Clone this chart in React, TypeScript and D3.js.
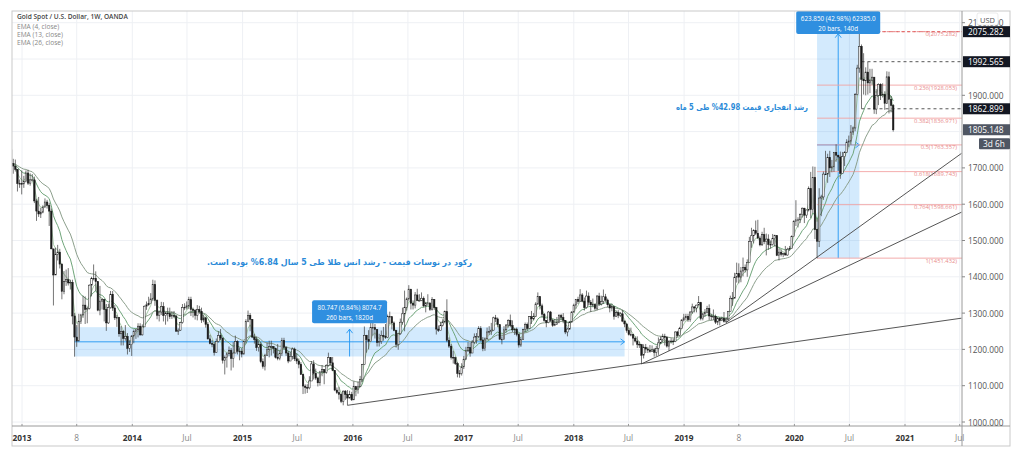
import React from 'react';
import * as d3 from 'd3';

// ---------- DATA ----------
const firstWeek = '2012-11-26';
const firstOpen = 1750;
// weekly [close, high, low]
const w2012 = [[1712,1754,1705],[1705,1725,1684],[1696,1723,1690],[1657,1697,1635],[1657,1668,1645],[1656,1693,1627]];
const w2013 = [[1662,1678,1645],[1686,1693,1660],[1658,1695,1653],[1667,1685,1651],[1667,1683,1663],[1609,1676,1603],[1581,1615,1554],[1573,1620,1565],[1578,1590,1562],[1592,1597,1575],[1606,1616,1591],[1597,1612,1588],[1581,1604,1540],[1477,1588,1476],[1405,1435,1321],[1462,1480,1405],[1468,1488,1445],[1435,1477,1423],[1360,1437,1338],[1387,1416,1352],[1392,1420,1375],[1383,1424,1376],[1385,1392,1365],[1292,1392,1269],[1234,1300,1180],[1223,1267,1207],[1277,1298,1230],[1295,1298,1270],[1322,1348,1287],[1310,1346,1270],[1313,1318,1272],[1377,1379,1310],[1396,1400,1346],[1396,1434,1390],[1387,1415,1361],[1308,1387,1305],[1333,1375,1294],[1338,1341,1310],[1310,1336,1277],[1273,1325,1251],[1315,1326,1270],[1352,1361,1312],[1314,1361,1306],[1287,1322,1281],[1288,1295,1262],[1243,1283,1235],[1250,1264,1211],[1230,1253,1211],[1236,1267,1224],[1203,1245,1186],[1213,1225,1193],[1237,1239,1182]];
const w2014 = [[1250,1255,1217],[1254,1256,1229],[1264,1272,1233],[1240,1272,1238],[1262,1269,1238],[1319,1321,1267],[1323,1332,1309],[1327,1345,1320],[1339,1355,1330],[1379,1392,1334],[1335,1390,1320],[1294,1338,1283],[1303,1305,1277],[1318,1331,1295],[1293,1330,1277],[1300,1303,1268],[1299,1315,1277],[1290,1315,1284],[1293,1305,1284],[1292,1306,1286],[1250,1294,1250],[1253,1258,1240],[1274,1276,1251],[1315,1325,1271],[1316,1327,1308],[1320,1332,1310],[1337,1345,1311],[1310,1345,1292],[1307,1315,1288],[1294,1311,1282],[1310,1322,1280],[1304,1320,1298],[1281,1315,1273],[1287,1296,1275],[1269,1290,1260],[1229,1275,1227],[1216,1240,1214],[1214,1226,1206],[1192,1221,1183],[1222,1230,1191],[1238,1250,1219],[1231,1256,1226],[1170,1233,1161],[1178,1183,1131],[1188,1192,1150],[1197,1208,1181],[1175,1204,1142],[1190,1220,1150],[1222,1238,1190],[1195,1225,1186],[1195,1205,1170],[1187,1203,1178]];
const w2015 = [[1222,1223,1187],[1277,1283,1216],[1294,1307,1275],[1283,1300,1250],[1234,1283,1231],[1227,1243,1216],[1205,1235,1196],[1213,1225,1194],[1166,1220,1162],[1153,1175,1147],[1184,1188,1142],[1199,1219,1182],[1208,1224,1178],[1208,1224,1183],[1203,1209,1189],[1178,1205,1175],[1175,1215,1170],[1189,1197,1170],[1225,1232,1182],[1205,1232,1200],[1190,1208,1182],[1168,1196,1162],[1181,1193,1170],[1201,1205,1172],[1174,1205,1168],[1168,1189,1160],[1159,1175,1148],[1131,1165,1130],[1099,1133,1077],[1095,1104,1078],[1094,1104,1080],[1113,1126,1090],[1160,1168,1115],[1134,1170,1117],[1121,1147,1116],[1108,1125,1098],[1138,1141,1100],[1145,1157,1126],[1137,1141,1104],[1156,1159,1133],[1177,1191,1153],[1163,1178,1156],[1142,1179,1140],[1088,1142,1085],[1081,1095,1077],[1076,1097,1062],[1057,1080,1052],[1085,1087,1046],[1076,1088,1061],[1066,1088,1046],[1076,1086,1065],[1061,1083,1058]];
const w2016 = [[1098,1112,1061],[1089,1097,1071],[1097,1111,1078],[1117,1127,1097],[1158,1160,1110],[1239,1263,1157],[1227,1240,1191],[1222,1253,1200],[1260,1281,1225],[1260,1283,1238],[1255,1270,1230],[1219,1254,1208],[1222,1243,1208],[1239,1252,1215],[1235,1262,1224],[1233,1270,1229],[1290,1296,1231],[1290,1304,1270],[1273,1279,1255],[1252,1277,1250],[1214,1254,1205],[1243,1245,1199],[1275,1285,1240],[1298,1315,1268],[1316,1362,1250],[1339,1343,1307],[1366,1377,1334],[1327,1356,1310],[1322,1335,1310],[1350,1358,1313],[1335,1367,1333],[1335,1352,1332],[1341,1357,1333],[1320,1346,1316],[1327,1331,1302],[1328,1352,1321],[1310,1329,1306],[1338,1344,1307],[1315,1338,1309],[1256,1317,1241],[1252,1266,1248],[1266,1276,1253],[1276,1283,1263],[1304,1307,1272],[1225,1338,1220],[1209,1233,1204],[1178,1215,1172],[1177,1196,1161],[1161,1180,1157],[1134,1165,1123],[1134,1143,1122],[1152,1162,1128]];
const w2017 = [[1173,1182,1146],[1196,1207,1172],[1205,1220,1193],[1190,1219,1180],[1220,1226,1190],[1234,1244,1215],[1236,1245,1216],[1257,1264,1231],[1226,1264,1222],[1202,1234,1195],[1229,1233,1196],[1248,1260,1229],[1249,1264,1240],[1253,1273,1240],[1287,1290,1252],[1284,1295,1275],[1268,1288,1261],[1228,1268,1227],[1228,1236,1214],[1254,1264,1228],[1267,1270,1247],[1280,1283,1260],[1266,1296,1261],[1254,1280,1248],[1256,1258,1240],[1241,1260,1236],[1212,1243,1205],[1228,1234,1207],[1255,1257,1226],[1269,1274,1247],[1258,1274,1251],[1290,1292,1257],[1284,1306,1270],[1291,1300,1280],[1325,1330,1289],[1346,1357,1323],[1320,1338,1310],[1297,1326,1288],[1280,1300,1276],[1274,1280,1261],[1303,1306,1272],[1280,1306,1276],[1266,1284,1262],[1269,1284,1264],[1275,1289,1268],[1293,1297,1272],[1288,1298,1280],[1280,1300,1272],[1248,1281,1242],[1256,1260,1236],[1275,1278,1254],[1303,1305,1276]];
const w2018 = [[1322,1326,1301],[1338,1339,1312],[1332,1345,1325],[1350,1366,1332],[1333,1355,1330],[1315,1343,1307],[1347,1362,1312],[1330,1357,1321],[1323,1336,1303],[1324,1340,1316],[1313,1327,1307],[1347,1350,1307],[1325,1356,1320],[1332,1348,1321],[1345,1365,1325],[1336,1353,1331],[1323,1340,1316],[1314,1325,1302],[1318,1326,1305],[1291,1318,1282],[1301,1307,1289],[1294,1308,1286],[1298,1303,1289],[1278,1309,1275],[1270,1280,1261],[1252,1272,1246],[1241,1260,1238],[1241,1260,1236],[1231,1243,1211],[1223,1236,1219],[1214,1236,1204],[1213,1222,1204],[1184,1215,1160],[1206,1214,1175],[1201,1215,1190],[1198,1207,1190],[1194,1212,1191],[1199,1211,1193],[1192,1204,1180],[1203,1210,1182],[1218,1233,1185],[1227,1236,1215],[1235,1243,1220],[1233,1243,1211],[1209,1237,1205],[1222,1226,1196],[1223,1231,1216],[1222,1230,1212],[1248,1250,1220],[1238,1251,1235],[1257,1262,1236],[1281,1283,1256],[1287,1298,1277]];
const w2019 = [[1291,1298,1280],[1282,1298,1276],[1303,1305,1276],[1317,1326,1298],[1314,1319,1302],[1322,1323,1302],[1329,1347,1321],[1285,1331,1280],[1298,1301,1280],[1302,1311,1290],[1313,1320,1299],[1292,1324,1281],[1291,1298,1280],[1291,1310,1281],[1275,1296,1270],[1286,1289,1267],[1279,1289,1266],[1286,1290,1278],[1277,1303,1274],[1284,1287,1273],[1305,1306,1279],[1341,1348,1305],[1341,1358,1320],[1399,1411,1341],[1409,1439,1384],[1399,1437,1382],[1416,1427,1385],[1426,1453,1401],[1419,1434,1412],[1440,1448,1400],[1497,1510,1440],[1513,1535,1480],[1527,1531,1492],[1520,1555,1515],[1507,1557,1504],[1488,1513,1484],[1516,1524,1485],[1497,1535,1490],[1504,1519,1459],[1489,1517,1474],[1489,1500,1478],[1505,1518,1486],[1514,1516,1483],[1459,1513,1457],[1468,1478,1445],[1462,1476,1456],[1464,1466,1454],[1460,1485,1459],[1476,1480,1458],[1478,1485,1472],[1511,1514,1478],[1552,1556,1516]];
const w2020 = [[1557,1611,1540],[1557,1564,1536],[1571,1575,1548],[1589,1591,1563],[1570,1590,1548],[1584,1585,1562],[1643,1649,1580],[1585,1689,1562],[1674,1704,1575],[1530,1703,1504],[1498,1560,1451],[1617,1644,1482],[1620,1626,1567],[1683,1690,1612],[1683,1747,1681],[1729,1739,1659],[1700,1747,1675],[1703,1722,1688],[1743,1744,1689],[1735,1765,1717],[1730,1736,1692],[1685,1745,1670],[1731,1744,1699],[1743,1746,1705],[1771,1779,1742],[1774,1789,1757],[1799,1818,1764],[1810,1814,1791],[1902,1906,1801],[1975,1984,1900],[2035,2075,1962],[1944,2040,1863],[1940,2016,1902],[1964,1977,1900],[1934,1992,1902],[1941,1973,1906],[1950,1973,1929],[1862,1950,1849],[1900,1917,1848],[1930,1933,1873],[1899,1933,1887],[1902,1933,1894],[1878,1911,1860],[1951,1966,1876],[1889,1965,1850],[1872,1898,1853],[1805,1876,1800]];

const emaPeriods = [4, 13, 26];
const emaColors = ['#a9cba9', '#6fa57a', '#8c9f8c'];

const priceTicks = [1000, 1100, 1200, 1300, 1400, 1500, 1600, 1700, 1800, 1900, 2000, 2100];
const timeTicks: [string, string, boolean][] = [
  ['2013-01-01', '2013', true], ['2013-07-01', '8', false], ['2014-01-01', '2014', true], ['2014-07-01', 'Jul', false],
  ['2015-01-01', '2015', true], ['2015-07-01', 'Jul', false], ['2016-01-01', '2016', true], ['2016-07-01', 'Jul', false],
  ['2017-01-01', '2017', true], ['2017-07-01', 'Jul', false], ['2018-01-01', '2018', true], ['2018-07-01', 'Jul', false],
  ['2019-01-01', '2019', true], ['2019-07-01', '8', false], ['2020-01-01', '2020', true], ['2020-07-01', 'Jul', false],
  ['2021-01-01', '2021', true], ['2021-07-01', 'Jul', false],
];

const fibRatios = [0, 0.236, 0.382, 0.5, 0.618, 0.764, 1];
const fibHigh = 2075.282;
const fibLow = 1451.432;
const fibStart = '2020-03-16';

const rangeBoxes = [
  { from: '2020-03-16', to: '2020-08-03', low: 1451.432, high: 2075.282, line1: '623.850 (42.98%) 62385.0', line2: '20 bars, 140d' },
  { from: '2013-06-24', to: '2018-06-18', low: 1180.5, high: 1261.247, line1: '80.747 (6.84%) 8074.7', line2: '260 bars, 1820d' },
];

const trendLines: [string, number, string, number][] = [
  ['2015-12-14', 1046, '2021-07-07', 1286],
  ['2018-08-13', 1160, '2021-07-07', 1578],
  ['2019-05-20', 1274, '2021-07-07', 1740],
];

const dashedLevels = [
  { value: 1992.565, from: '2020-08-10', color: '#444' },
  { value: 1862.899, from: '2020-08-10', color: '#444' },
  { value: 2075.282, from: '2020-08-03', color: '#e06060' },
];

const axisLabels = [
  { value: 2075.282, fill: '#131722' },
  { value: 1992.565, fill: '#131722' },
  { value: 1862.899, fill: '#131722' },
  { value: 1805.148, fill: '#4f5663' },
];
const countdown = '3d 6h';

const legendTitle = 'Gold Spot / U.S. Dollar, 1W, OANDA';
const legendItems = ['EMA (4, close)', 'EMA (13, close)', 'EMA (26, close)'];

const noteUpper = 'رشد انفجاری قیمت 42.98% طی 5 ماه';
const noteLower = 'رکود در نوسات قیمت - رشد انس طلا طی 5 سال 6.84% بوده است.';

// ---------- LAYOUT ----------
const frame = { l: 12, t: 11, r: 1010, b: 446 };
const plotR = 962;
const plotB = 426;
const FONT = '"Open Sans", "DejaVu Sans", sans-serif';

const d = (s: string) => new Date(s + 'T00:00:00Z');

export default function App() {
  const x = d3.scaleUtc().domain([d('2013-01-01'), d('2021-01-01')]).range([22, 905]);
  const y = d3.scaleLinear().domain([1000, 2100]).range([422, 22.7]);

  const weeks = [...w2012, ...w2013, ...w2014, ...w2015, ...w2016, ...w2017, ...w2018, ...w2019, ...w2020];
  const t0 = d(firstWeek).getTime();
  const candles = weeks.map(([c, h, l], i) => ({
    date: new Date(t0 + i * 7 * 864e5),
    open: i === 0 ? firstOpen : weeks[i - 1][0],
    close: c, high: h, low: l,
  }));
  const closes = candles.map((c) => c.close);
  const emas = emaPeriods.map((n) => {
    const k = 2 / (n + 1);
    let e = closes[0];
    return closes.map((v, i) => (i === 0 ? e : (e = v * k + e * (1 - k))));
  });
  const line = d3.line<number>().x((_, i) => x(candles[i].date)).y((v) => y(v));

  const bodyW = 1.5;
  const labelH = 11;

  const hiddenTicks = (v: number) => axisLabels.some((a) => Math.abs(y(a.value) - y(v)) < 7);

  return (
    <svg width={1024} height={450} style={{ position: 'absolute', left: 0, top: 0, background: '#fff' }} fontFamily={FONT}>
      <defs>
        <clipPath id="plot"><rect x={frame.l} y={frame.t} width={plotR - frame.l} height={plotB - frame.t} /></clipPath>
      </defs>
      <rect x={0} y={0} width={1024} height={450} fill="#fff" />
      {/* grid */}
      <g stroke="#eef0f4" strokeWidth={1}>
        {priceTicks.map((v) => (y(v) > frame.t && y(v) < plotB ? <line key={v} x1={frame.l} x2={plotR} y1={y(v)} y2={y(v)} /> : null))}
        {timeTicks.map(([t]) => (x(d(t)) < plotR ? <line key={t} x1={x(d(t))} x2={x(d(t))} y1={frame.t} y2={plotB} /> : null))}
      </g>

      <g clipPath="url(#plot)">
        {/* range boxes */}
        {rangeBoxes.map((b, i) => {
          const x1 = x(d(b.from)), x2 = x(d(b.to));
          const yt = y(b.high), yb = y(b.low);
          const xm = (x1 + x2) / 2, ym = (yt + yb) / 2;
          return (
            <g key={i}>
              <rect x={x1} y={yt} width={x2 - x1} height={yb - yt} fill="rgba(33,150,243,0.2)" />
              <line x1={x1} x2={x2} y1={ym} y2={ym} stroke="#2196f3" strokeWidth={0.9} />
              <path d={`M${x2 - 4},${ym - 3}L${x2},${ym}L${x2 - 4},${ym + 3}`} fill="none" stroke="#2196f3" strokeWidth={0.9} />
              <line x1={xm} x2={xm} y1={yt + 2} y2={yb} stroke="#2196f3" strokeWidth={0.9} />
              <path d={`M${xm - 3},${yt + 6}L${xm},${yt + 2}L${xm + 3},${yt + 6}`} fill="none" stroke="#2196f3" strokeWidth={0.9} />
            </g>
          );
        })}

        {/* fib levels */}
        {fibRatios.map((r) => {
          const v = fibHigh - r * (fibHigh - fibLow);
          const yy = y(v);
          return (
            <g key={r}>
              <line x1={x(d(fibStart))} x2={plotR} y1={yy} y2={yy} stroke={r === 0 ? '#e57373' : '#f2a3a3'} strokeWidth={0.9} strokeDasharray={r === 0 ? '3,2' : undefined} />
              <text x={957} y={yy + 2.5} fontSize={5.8} fill="#e88a8a" textAnchor="end" dominantBaseline="central">{`${r}(${v.toFixed(3)})`}</text>
            </g>
          );
        })}

        {/* trend lines */}
        {trendLines.map(([t1, p1, t2, p2], i) => (
          <line key={i} x1={x(d(t1))} y1={y(p1)} x2={x(d(t2))} y2={y(p2)} stroke="#555" strokeWidth={1} />
        ))}

        {/* dashed levels */}
        {dashedLevels.map((lv, i) => (
          <line key={i} x1={x(d(lv.from))} x2={plotR} y1={y(lv.value)} y2={y(lv.value)} stroke={lv.color} strokeWidth={0.9} strokeDasharray="3,3" />
        ))}

        {/* EMAs */}
        {emas.map((vals, i) => (
          <path key={i} d={line(vals) || ''} fill="none" stroke={emaColors[i]} strokeWidth={1} />
        ))}

        {/* candles */}
        {candles.map((c, i) => {
          const cx = x(c.date);
          const up = c.close >= c.open;
          const top = y(Math.max(c.open, c.close));
          const bot = y(Math.min(c.open, c.close));
          return (
            <g key={i}>
              <line x1={cx} x2={cx} y1={y(c.high)} y2={y(c.low)} stroke="#3a3a3a" strokeWidth={0.7} />
              <rect x={cx - bodyW / 2} y={top} width={bodyW} height={Math.max(0.7, bot - top)} fill={up ? '#fff' : '#1a1a1a'} stroke="#1a1a1a" strokeWidth={0.5} />
            </g>
          );
        })}
      </g>

      {/* range box labels */}
      {rangeBoxes.map((b, i) => {
        const x1 = x(d(b.from)), x2 = x(d(b.to));
        const xm = (x1 + x2) / 2;
        const w = i === 0 ? 84 : 75;
        const h = 23;
        const top = Math.max(frame.t, y(b.high) - 4 - h);
        return (
          <g key={i}>
            <rect x={xm - w / 2} y={top} width={w} height={h} rx={2} fill="#2f8fe0" />
            <text x={xm} y={top + 7} fontSize={6.3} fill="#fff" textAnchor="middle" dominantBaseline="central">{b.line1}</text>
            <text x={xm} y={top + 17} fontSize={6.3} fill="#fff" textAnchor="middle" dominantBaseline="central">{b.line2}</text>
          </g>
        );
      })}

      {/* notes */}
      <text x={808} y={107} fontSize={8} fontWeight="bold" fill="#2a8ad8" textAnchor="end" dominantBaseline="central" fontFamily="DejaVu Sans" textLength={132} lengthAdjust="spacingAndGlyphs">{'\u200F' + noteUpper + '\u200F'}</text>
      <text x={472} y={262} fontSize={8} fontWeight="bold" fill="#2a8ad8" textAnchor="end" dominantBaseline="central" fontFamily="DejaVu Sans" textLength={265} lengthAdjust="spacingAndGlyphs">{'\u200F' + noteLower + '\u200F'}</text>

      {/* legend */}
      <text x={17} y={19} fontSize={6.6} fontWeight={600} fill="#444">{legendTitle}</text>
      {legendItems.map((s, i) => (
        <text key={s} x={17} y={28.5 + i * 8.3} fontSize={6.6} fill="#888">{s}</text>
      ))}

      {/* frame & axes */}
      <rect x={frame.l} y={frame.t} width={frame.r - frame.l} height={frame.b - frame.t} fill="none" stroke="#c9c9c9" strokeWidth={1} />
      <line x1={plotR} x2={plotR} y1={frame.t} y2={frame.b} stroke="#9a9a9a" strokeWidth={1} />
      <line x1={frame.l} x2={frame.r} y1={plotB} y2={plotB} stroke="#9a9a9a" strokeWidth={1} />

      {/* right price axis */}
      {priceTicks.map((v) => (hiddenTicks(v) ? null : (
        <g key={v}>
          <line x1={plotR} x2={plotR + 3} y1={y(v)} y2={y(v)} stroke="#888" />
          <text x={968} y={y(v)} fontSize={8.3} fill="#555" dominantBaseline="central">{v.toFixed(3)}</text>
        </g>
      )))}
      {/* USD badge */}
      <rect x={977} y={13} width={21} height={12} rx={2} fill="#fff" stroke="#ddd" strokeWidth={0.6} />
      <text x={987.5} y={19.5} fontSize={7.5} fill="#555" textAnchor="middle" dominantBaseline="central">USD</text>

      {axisLabels.map((a) => (
        <g key={a.value}>
          <rect x={plotR + 1} y={y(a.value) - labelH / 2} width={frame.r - plotR - 1} height={labelH} fill={a.fill} />
          <text x={968} y={y(a.value)} fontSize={8.3} fill="#fff" dominantBaseline="central">{a.value.toFixed(3)}</text>
        </g>
      ))}
      <rect x={979} y={y(1805.148) + labelH / 2 + 3} width={frame.r - 979} height={labelH} rx={1} fill="#4f5663" />
      <text x={983} y={y(1805.148) + labelH + 3} fontSize={8.3} fill="#fff" dominantBaseline="central">{countdown}</text>

      {/* bottom time axis */}
      {timeTicks.map(([t, lbl, bold]) => {
        const xx = x(d(t));
        return (
          <g key={t}>
            <line x1={xx} x2={xx} y1={plotB} y2={plotB - 2} stroke="#999" />
            <text x={xx} y={437} fontSize={8.3} textAnchor="middle" dominantBaseline="central" fontWeight={bold ? 700 : 400} fill={bold ? '#333' : '#888'}>{lbl}</text>
          </g>
        );
      })}
    </svg>
  );
}
